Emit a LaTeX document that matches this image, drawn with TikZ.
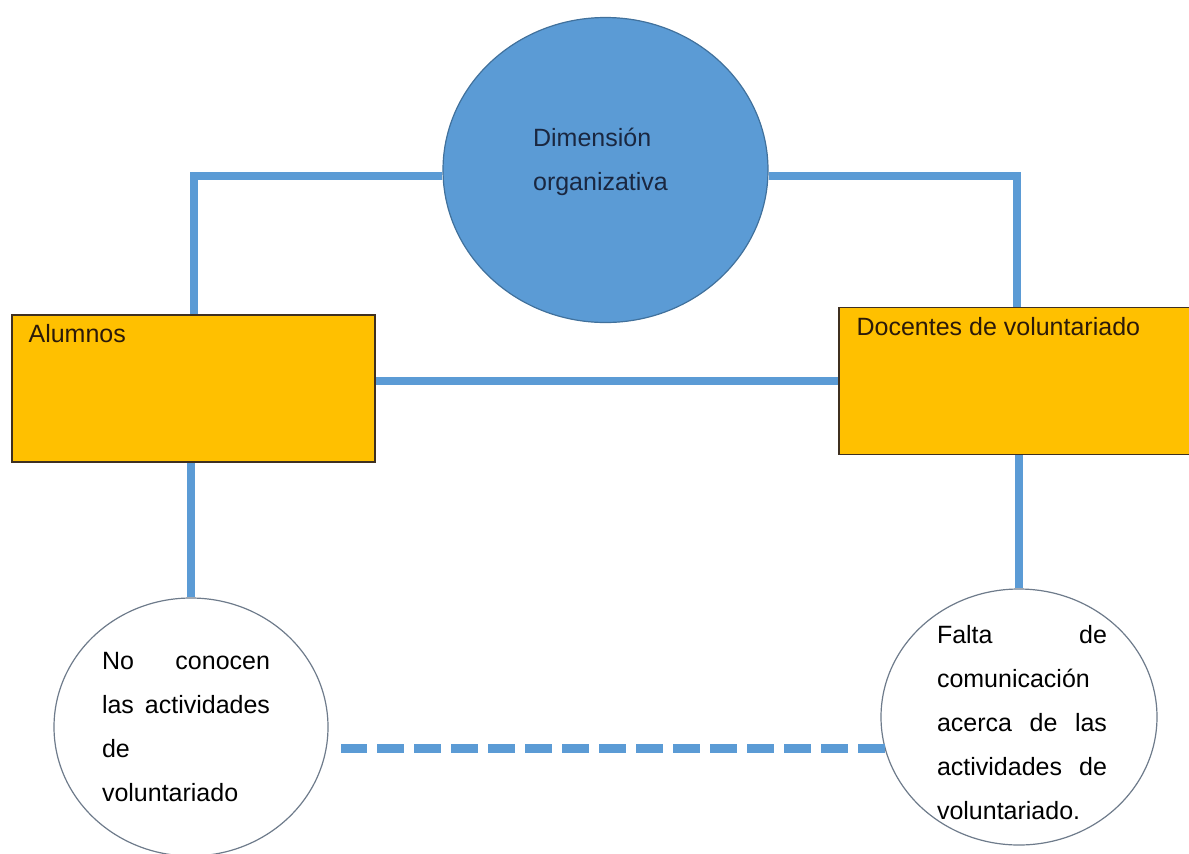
\documentclass[tikz,border=0pt]{standalone}
\usepackage{fontspec}
\setmainfont{Liberation Sans}
\usepackage{tikz}
\usetikzlibrary{shapes.geometric}
\definecolor{lineblue}{HTML}{5B9BD5}
\definecolor{rimblue}{HTML}{41719C}
\definecolor{boxorange}{HTML}{FFC000}
\definecolor{boxrim}{HTML}{3F3020}
\definecolor{boxtext}{HTML}{2B1A0A}
\definecolor{dimtext}{HTML}{1A2740}
\definecolor{rimgrey}{HTML}{6E7B8B}

\begin{document}
\begin{tikzpicture}[x=0.5pt, y=-0.5pt,
    txt/.style={inner sep=0pt, font=\fontsize{12.5}{22}\selectfont},
    conn/.style={draw=lineblue, line width=4pt, line join=miter},
    dashconn/.style={draw=lineblue, line width=4.5pt, dash pattern=on 13.5pt off 5pt},
    actor/.style={rectangle, draw=boxrim, line width=0.8pt, fill=boxorange, minimum height=73.5pt},
    problem/.style={ellipse, draw=rimgrey, line width=0.6pt, fill=white}]
    \useasboundingbox (0,0) rectangle (1189,853);
    \node[ellipse, draw=rimblue, line width=0.6pt, fill=lineblue, minimum width=162.5pt, minimum height=152.5pt] (dim) at (605.5,170) {};
    \node[txt, align=left, text=dimtext] (dimtxt) at ([xshift=-2.5pt,yshift=4pt]dim.center) {Dimensión\\organizativa};
    \node[actor, minimum width=181.5pt] (alum) at (193.5,388.5) {};
    \node[actor, minimum width=178pt] (doc) at (1017,381) {};
    \node[txt, anchor=base west, text=boxtext] (alumtxt) at ([xshift=8.5pt,yshift=-14pt]alum.north west) {Alumnos};
    \node[txt, anchor=base west, text=boxtext] (doctxt) at ([xshift=9pt,yshift=-14.5pt]doc.north west) {Docentes de voluntariado};
    \node[problem, minimum width=137pt, minimum height=129pt] (noconocen) at (191,727) {};
    \node[problem, minimum width=138pt, minimum height=128pt] (falta) at (1019,717) {};
    \node[txt, text width=84pt] (noconocentxt) at ([xshift=-2.5pt]noconocen.center) {No\hfill conocen\\las\hfill actividades\\de\\voluntariado};
    \node[txt, text width=85pt] (faltatxt) at ([xshift=1.5pt,yshift=-3pt]falta.center) {Falta\hfill de\\comunicación\\acerca\hfill de\hfill las\\actividades\hfill de\\voluntariado.};
    \draw[conn] (alum.north) |- ([yshift=-3pt]dim.west);
    \draw[conn] (doc.north) |- ([yshift=-3pt]dim.east);
    \draw[conn] (doc.west) -- (doc.west -| alum.east);
    \draw[conn] (noconocen.north) -- (noconocen.north |- alum.south);
    \draw[conn] (falta.north) -- (falta.north |- doc.south);
    \draw[dashconn] (falta.193) -- ([xshift=6pt]noconocen.east |- falta.193);
\end{tikzpicture}
\end{document}
